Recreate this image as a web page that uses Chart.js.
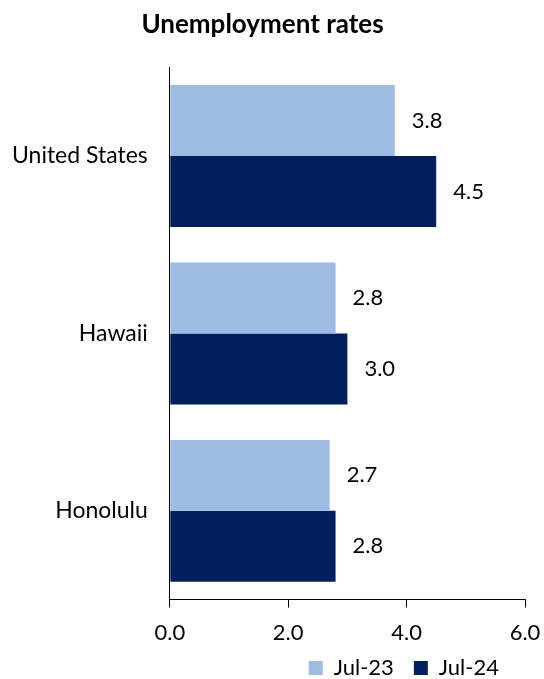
<!DOCTYPE html>
<html>
<head>
<meta charset="utf-8">
<script src="https://cdn.jsdelivr.net/npm/chart.js@4"></script>
<style>
  html, body { margin: 0; padding: 0; background: #fff; }
  #wrap { width: 544px; height: 679px; }
</style>
</head>
<body>
<div id="wrap"><canvas id="chart"></canvas></div>
<script>
// data
const categories = ['United States', 'Hawaii', 'Honolulu'];
const seriesNames = ['Jul-23', 'Jul-24'];
const jul23 = [3.8, 2.8, 2.7];
const jul24 = [4.5, 3.0, 2.8];
const xTicks = [0, 2, 4, 6];

const FONT = 'Lato, "Open Sans", sans-serif';

// value labels just past the bar ends
const barLabels = {
    id: 'barLabels',
    afterDatasetsDraw(chart) {
        const ctx = chart.ctx;
        ctx.save();
        ctx.font = '22px ' + FONT;
        ctx.fillStyle = '#000';
        ctx.textBaseline = 'middle';
        ctx.textAlign = 'left';
        chart.data.datasets.forEach((ds, i) => {
            chart.getDatasetMeta(i).data.forEach((bar, j) => {
                ctx.fillText(ds.data[j].toFixed(1), bar.x + 17, bar.y);
            });
        });
        ctx.restore();
    }
};

// nudge legend and title to where the original has them
const boxShift = {
    id: 'boxShift',
    afterLayout(chart) {
        const lg = chart.legend;
        lg.right -= 34;
        lg.top -= 21;
        lg.bottom -= 21;
        const tb = chart.titleBlock;
        tb.left -= 9;
        tb.right -= 9;
    }
};

new Chart(document.getElementById('chart'), {
    type: 'bar',
    data: {
        labels: categories,
        datasets: [
            { label: seriesNames[0], data: jul23, backgroundColor: '#9DBBE3', barPercentage: 1.0, categoryPercentage: 0.8 },
            { label: seriesNames[1], data: jul24, backgroundColor: '#001F5C', barPercentage: 1.0, categoryPercentage: 0.8 }
        ]
    },
    options: {
        indexAxis: 'y',
        responsive: true,
        maintainAspectRatio: false,
        animation: false,
        layout: { padding: { left: -10, right: -9, top: 6, bottom: -31 } },
        scales: {
            x: {
                min: 0, max: 6,
                afterBuildTicks: (axis) => { axis.ticks = xTicks.map(v => ({ value: v })); },
                afterFit: (axis) => { axis.paddingRight = 19; },
                ticks: { color: '#000', font: { family: FONT, size: 22 }, padding: 12,
                         callback: (v) => Number(v).toFixed(1) },
                grid: { drawOnChartArea: false, drawTicks: true, tickLength: 8, color: '#000' },
                border: { display: true, color: '#000', width: 1 }
            },
            y: {
                ticks: { color: '#000', font: { family: FONT, size: 23 }, padding: 22 },
                grid: { drawOnChartArea: false, drawTicks: false },
                border: { display: true, color: '#000', width: 1 }
            }
        },
        plugins: {
            title: {
                display: true, text: 'Unemployment rates', color: '#000',
                font: { family: FONT, size: 26, weight: 'bold' },
                padding: { top: 3, bottom: 27 }
            },
            legend: {
                position: 'bottom', align: 'end',
                labels: { color: '#000', font: { family: FONT, size: 22 },
                          boxWidth: 14, boxHeight: 14, padding: 20 }
            },
            tooltip: { enabled: false }
        }
    },
    plugins: [barLabels, boxShift]
});
</script>
</body>
</html>
